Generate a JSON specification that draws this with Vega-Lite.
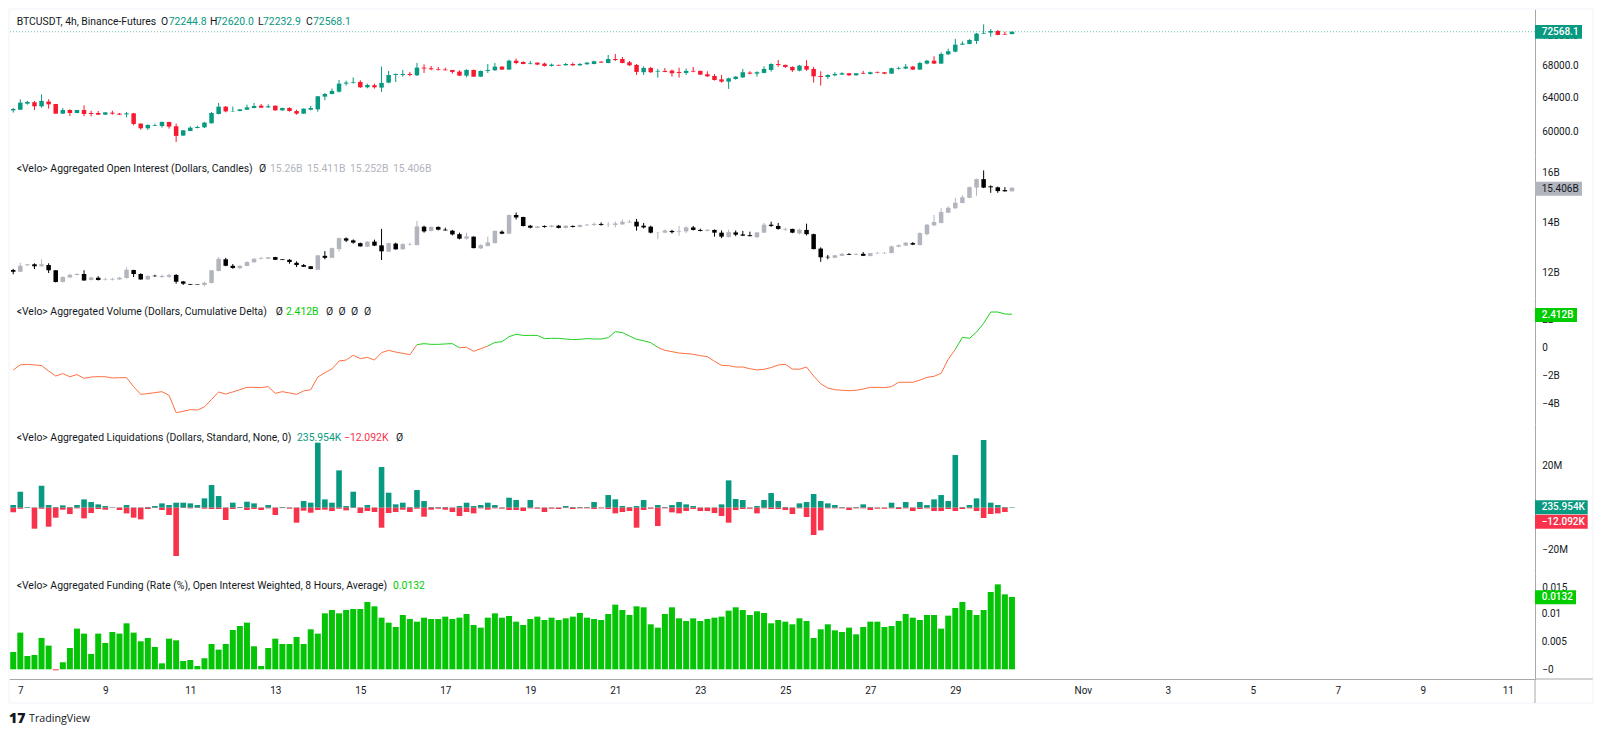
{"$schema":"https://vega.github.io/schema/vega-lite/v6.json","background":"white","padding":{"left":8,"top":8,"right":0,"bottom":0},"bounds":"flush","spacing":0,
"config":{"view":{"stroke":null},"text":{"font":"Roboto","fontSize":10.4,"align":"left","baseline":"middle","color":"#131722"},"axis":{"labelFont":"Roboto","labelFontSize":10,"labelColor":"#131722","grid":false,"ticks":false,"title":null,"domainColor":"#a8a8a8","domainWidth":1,"labelOverlap":false,"labelFlush":false,"labelBound":false}},
"datasets":{"bars":[
{"t":"2024-10-06T20:00Z","o":62510,"h":62790,"l":62240,"c":62670,"io":12.10,"ih":12.15,"il":11.93,"ic":12.03,"dn":-1.57,"long":1.27,"short":-2.22,"fund":0.00316},
{"t":"2024-10-07T00:00Z","o":62590,"h":63840,"l":62550,"c":63430,"io":12.03,"ih":12.39,"il":12.02,"ic":12.27,"dn":-1.21,"long":7.62,"short":-0.48,"fund":0.00669},
{"t":"2024-10-07T04:00Z","o":63310,"h":63640,"l":63190,"c":63520,"io":12.29,"ih":12.33,"il":12.27,"ic":12.33,"dn":-1.17,"long":0.32,"short":-0.05,"fund":0.00243},
{"t":"2024-10-07T08:00Z","o":63480,"h":63640,"l":62550,"c":62990,"io":12.33,"ih":12.37,"il":12.14,"ic":12.25,"dn":-1.21,"long":0.16,"short":-10.0,"fund":0.00261},
{"t":"2024-10-07T12:00Z","o":62990,"h":64440,"l":62830,"c":63640,"io":12.25,"ih":12.53,"il":12.23,"ic":12.33,"dn":-1.26,"long":10.47,"short":-0.48,"fund":0.00572},
{"t":"2024-10-07T16:00Z","o":63560,"h":63840,"l":62710,"c":63230,"io":12.30,"ih":12.37,"il":11.98,"ic":12.09,"dn":-1.64,"long":1.27,"short":-9.05,"fund":0.00432},
{"t":"2024-10-07T20:00Z","o":63270,"h":63270,"l":62120,"c":62120,"io":12.09,"ih":12.09,"il":11.60,"ic":11.62,"dn":-2.00,"long":0.32,"short":-4.76,"fund":-0.00018},
{"t":"2024-10-08T00:00Z","o":62120,"h":62790,"l":62080,"c":62550,"io":11.62,"ih":11.85,"il":11.60,"ic":11.82,"dn":-1.83,"long":1.11,"short":-0.95,"fund":0.00128},
{"t":"2024-10-08T04:00Z","o":62550,"h":62630,"l":61850,"c":62200,"io":11.80,"ih":11.95,"il":11.79,"ic":11.91,"dn":-2.05,"long":0.32,"short":-3.02,"fund":0.00389},
{"t":"2024-10-08T08:00Z","o":62200,"h":62550,"l":62160,"c":62550,"io":11.90,"ih":11.97,"il":11.89,"ic":11.94,"dn":-1.90,"long":1.27,"short":-0.32,"fund":0.00742},
{"t":"2024-10-08T12:00Z","o":62550,"h":63110,"l":61810,"c":62080,"io":11.94,"ih":12.09,"il":11.67,"ic":11.68,"dn":-2.17,"long":3.97,"short":-5.08,"fund":0.00651},
{"t":"2024-10-08T16:00Z","o":62200,"h":62470,"l":61810,"c":62080,"io":11.70,"ih":11.83,"il":11.68,"ic":11.80,"dn":-2.07,"long":2.7,"short":-2.54,"fund":0.0028},
{"t":"2024-10-08T20:00Z","o":62200,"h":62430,"l":61960,"c":62000,"io":11.79,"ih":11.85,"il":11.68,"ic":11.70,"dn":-2.05,"long":1.59,"short":-0.63,"fund":0.00651},
{"t":"2024-10-09T00:00Z","o":62000,"h":62310,"l":61960,"c":62270,"io":11.70,"ih":11.79,"il":11.68,"ic":11.72,"dn":-2.05,"long":0.79,"short":-0.95,"fund":0.0048},
{"t":"2024-10-09T04:00Z","o":62240,"h":62470,"l":62000,"c":62120,"io":11.71,"ih":11.79,"il":11.68,"ic":11.74,"dn":-2.14,"long":0.16,"short":-0.16,"fund":0.00681},
{"t":"2024-10-09T08:00Z","o":62120,"h":62200,"l":61960,"c":62000,"io":11.72,"ih":11.82,"il":11.71,"ic":11.79,"dn":-2.12,"long":0.16,"short":-1.11,"fund":0.00651},
{"t":"2024-10-09T12:00Z","o":62040,"h":62310,"l":61690,"c":62160,"io":11.78,"ih":12.21,"il":11.76,"ic":12.11,"dn":-2.12,"long":1.27,"short":-2.7,"fund":0.00839},
{"t":"2024-10-09T16:00Z","o":62160,"h":62200,"l":60760,"c":60920,"io":12.10,"ih":12.11,"il":11.82,"ic":11.94,"dn":-2.76,"long":0.16,"short":-4.76,"fund":0.00669},
{"t":"2024-10-09T20:00Z","o":60960,"h":60960,"l":60260,"c":60420,"io":11.94,"ih":11.97,"il":11.71,"ic":11.72,"dn":-3.31,"long":0.16,"short":-5.55,"fund":0.00511},
{"t":"2024-10-10T00:00Z","o":60420,"h":60880,"l":60230,"c":60800,"io":11.72,"ih":11.89,"il":11.71,"ic":11.86,"dn":-3.26,"long":0.32,"short":-0.63,"fund":0.00572},
{"t":"2024-10-10T04:00Z","o":60720,"h":60960,"l":60680,"c":60800,"io":11.87,"ih":11.91,"il":11.83,"ic":11.85,"dn":-3.19,"long":0.79,"short":-0.16,"fund":0.00407},
{"t":"2024-10-10T08:00Z","o":60680,"h":61190,"l":60490,"c":61150,"io":11.82,"ih":11.91,"il":11.78,"ic":11.86,"dn":-3.12,"long":2.06,"short":-1.11,"fund":0.00109},
{"t":"2024-10-10T12:00Z","o":61150,"h":61150,"l":60380,"c":60610,"io":11.83,"ih":11.95,"il":11.78,"ic":11.90,"dn":-3.38,"long":1.27,"short":-3.49,"fund":0.00559},
{"t":"2024-10-10T16:00Z","o":60650,"h":60960,"l":58870,"c":59550,"io":11.90,"ih":11.94,"il":11.55,"ic":11.63,"dn":-4.62,"long":2.38,"short":-23.0,"fund":0.00529},
{"t":"2024-10-10T20:00Z","o":59590,"h":60190,"l":59550,"c":60190,"io":11.64,"ih":11.66,"il":11.50,"ic":11.55,"dn":-4.52,"long":2.38,"short":-0.16,"fund":0.00152},
{"t":"2024-10-11T00:00Z","o":60110,"h":60650,"l":60080,"c":60490,"io":11.54,"ih":11.54,"il":11.50,"ic":11.51,"dn":-4.40,"long":2.06,"short":-0.32,"fund":0.0017},
{"t":"2024-10-11T04:00Z","o":60450,"h":60720,"l":60410,"c":60570,"io":11.52,"ih":11.52,"il":11.50,"ic":11.50,"dn":-4.43,"long":1.27,"short":-0.16,"fund":0.00061},
{"t":"2024-10-11T08:00Z","o":60530,"h":61150,"l":60450,"c":61070,"io":11.50,"ih":11.62,"il":11.44,"ic":11.59,"dn":-4.21,"long":4.44,"short":-0.48,"fund":0.00201},
{"t":"2024-10-11T12:00Z","o":61000,"h":62310,"l":60960,"c":62200,"io":11.58,"ih":12.10,"il":11.56,"ic":12.09,"dn":-3.67,"long":10.79,"short":-0.63,"fund":0.00462},
{"t":"2024-10-11T16:00Z","o":62080,"h":63390,"l":62040,"c":62950,"io":12.06,"ih":12.62,"il":12.05,"ic":12.55,"dn":-3.14,"long":5.55,"short":-0.63,"fund":0.00359},
{"t":"2024-10-11T20:00Z","o":62950,"h":63030,"l":62270,"c":62390,"io":12.53,"ih":12.59,"il":12.25,"ic":12.27,"dn":-3.29,"long":0.16,"short":-5.87,"fund":0.00462},
{"t":"2024-10-12T00:00Z","o":62390,"h":62950,"l":62350,"c":62430,"io":12.27,"ih":12.34,"il":12.15,"ic":12.18,"dn":-3.14,"long":2.38,"short":-0.63,"fund":0.00717},
{"t":"2024-10-12T04:00Z","o":62430,"h":62630,"l":62390,"c":62630,"io":12.17,"ih":12.29,"il":12.15,"ic":12.27,"dn":-2.98,"long":0.32,"short":-0.16,"fund":0.0079},
{"t":"2024-10-12T08:00Z","o":62590,"h":63190,"l":62550,"c":62870,"io":12.26,"ih":12.45,"il":12.25,"ic":12.42,"dn":-2.81,"long":2.86,"short":-1.11,"fund":0.00851},
{"t":"2024-10-12T12:00Z","o":62790,"h":63390,"l":62750,"c":63030,"io":12.41,"ih":12.58,"il":12.39,"ic":12.55,"dn":-2.81,"long":2.06,"short":-0.63,"fund":0.0042},
{"t":"2024-10-12T16:00Z","o":63070,"h":63270,"l":62790,"c":62830,"io":12.54,"ih":12.63,"il":12.53,"ic":12.57,"dn":-2.83,"long":0.16,"short":-1.11,"fund":0.00061},
{"t":"2024-10-12T20:00Z","o":62870,"h":63230,"l":62790,"c":62990,"io":12.55,"ih":12.62,"il":12.54,"ic":12.61,"dn":-2.76,"long":1.27,"short":-0.32,"fund":0.00389},
{"t":"2024-10-13T00:00Z","o":63070,"h":63070,"l":62470,"c":62510,"io":12.62,"ih":12.63,"il":12.50,"ic":12.51,"dn":-3.24,"long":0.16,"short":-3.49,"fund":0.00559},
{"t":"2024-10-13T04:00Z","o":62510,"h":62830,"l":62470,"c":62790,"io":12.53,"ih":12.53,"il":12.50,"ic":12.50,"dn":-3.12,"long":0.32,"short":-0.16,"fund":0.00462},
{"t":"2024-10-13T08:00Z","o":62790,"h":62870,"l":62350,"c":62430,"io":12.51,"ih":12.54,"il":12.35,"ic":12.42,"dn":-3.21,"long":0.16,"short":-0.48,"fund":0.00462},
{"t":"2024-10-13T12:00Z","o":62430,"h":62590,"l":62000,"c":62120,"io":12.39,"ih":12.45,"il":12.22,"ic":12.30,"dn":-3.31,"long":0.16,"short":-7.14,"fund":0.0059},
{"t":"2024-10-13T16:00Z","o":62120,"h":62750,"l":62080,"c":62710,"io":12.30,"ih":12.34,"il":12.22,"ic":12.23,"dn":-3.07,"long":3.17,"short":-1.43,"fund":0.00462},
{"t":"2024-10-13T20:00Z","o":62590,"h":63030,"l":62510,"c":62790,"io":12.25,"ih":12.26,"il":12.13,"ic":12.14,"dn":-2.98,"long":2.38,"short":-2.38,"fund":0.0073},
{"t":"2024-10-14T00:00Z","o":62630,"h":64240,"l":62350,"c":64200,"io":12.11,"ih":12.70,"il":12.10,"ic":12.69,"dn":-2.07,"long":30.95,"short":-1.11,"fund":0.00651},
{"t":"2024-10-14T04:00Z","o":64160,"h":64610,"l":63720,"c":64480,"io":12.67,"ih":12.86,"il":12.53,"ic":12.59,"dn":-1.76,"long":3.97,"short":-0.95,"fund":0.01021},
{"t":"2024-10-14T08:00Z","o":64480,"h":65150,"l":64440,"c":64860,"io":12.59,"ih":13.00,"il":12.58,"ic":12.98,"dn":-1.50,"long":2.38,"short":-1.59,"fund":0.01082},
{"t":"2024-10-14T12:00Z","o":64770,"h":66220,"l":64650,"c":65760,"io":12.94,"ih":13.40,"il":12.84,"ic":13.38,"dn":-0.93,"long":17.77,"short":-0.48,"fund":0.01021},
{"t":"2024-10-14T16:00Z","o":65760,"h":66140,"l":65520,"c":65890,"io":13.37,"ih":13.41,"il":13.22,"ic":13.28,"dn":-0.86,"long":0.79,"short":-1.27,"fund":0.01082},
{"t":"2024-10-14T20:00Z","o":65850,"h":66550,"l":65760,"c":65930,"io":13.29,"ih":13.33,"il":13.16,"ic":13.20,"dn":-0.52,"long":7.62,"short":-0.16,"fund":0.011},
{"t":"2024-10-15T00:00Z","o":65970,"h":66180,"l":65230,"c":65310,"io":13.18,"ih":13.20,"il":13.04,"ic":13.05,"dn":-0.76,"long":0.16,"short":-2.54,"fund":0.011},
{"t":"2024-10-15T04:00Z","o":65310,"h":65760,"l":65180,"c":65600,"io":13.04,"ih":13.25,"il":13.02,"ic":13.24,"dn":-0.67,"long":1.27,"short":-1.59,"fund":0.01228},
{"t":"2024-10-15T08:00Z","o":65560,"h":65760,"l":65140,"c":65310,"io":13.24,"ih":13.32,"il":13.06,"ic":13.08,"dn":-0.86,"long":0.16,"short":-2.06,"fund":0.01149},
{"t":"2024-10-15T12:00Z","o":65270,"h":67920,"l":64730,"c":65850,"io":13.09,"ih":13.75,"il":12.50,"ic":12.85,"dn":-0.33,"long":19.36,"short":-9.52,"fund":0.00942},
{"t":"2024-10-15T16:00Z","o":65890,"h":67370,"l":65810,"c":66850,"io":12.84,"ih":13.20,"il":12.82,"ic":13.18,"dn":-0.17,"long":7.14,"short":-2.54,"fund":0.00851},
{"t":"2024-10-15T20:00Z","o":66850,"h":67020,"l":65970,"c":66980,"io":13.16,"ih":13.20,"il":12.92,"ic":12.93,"dn":-0.29,"long":1.59,"short":-2.06,"fund":0.00772},
{"t":"2024-10-16T00:00Z","o":66850,"h":67490,"l":66640,"c":66980,"io":12.93,"ih":13.18,"il":12.92,"ic":13.14,"dn":-0.38,"long":2.38,"short":-0.95,"fund":0.00991},
{"t":"2024-10-16T04:00Z","o":66980,"h":67240,"l":66680,"c":66850,"io":13.12,"ih":13.20,"il":13.08,"ic":13.14,"dn":-0.48,"long":0.32,"short":-2.06,"fund":0.00918},
{"t":"2024-10-16T08:00Z","o":66810,"h":68390,"l":66720,"c":67790,"io":13.10,"ih":14.07,"il":13.09,"ic":13.85,"dn":0.24,"up":0.24,"long":8.41,"short":-0.48,"fund":0.00869},
{"t":"2024-10-16T12:00Z","o":67790,"h":68220,"l":67110,"c":67670,"io":13.84,"ih":13.88,"il":13.60,"ic":13.65,"up":0.31,"long":3.17,"short":-4.28,"fund":0.00942},
{"t":"2024-10-16T16:00Z","o":67710,"h":68010,"l":67450,"c":67580,"io":13.67,"ih":13.85,"il":13.65,"ic":13.83,"up":0.26,"long":0.32,"short":-0.95,"fund":0.00918},
{"t":"2024-10-16T20:00Z","o":67580,"h":67880,"l":67410,"c":67490,"io":13.83,"ih":13.85,"il":13.69,"ic":13.72,"up":0.26,"long":0.32,"short":-0.48,"fund":0.00918},
{"t":"2024-10-17T00:00Z","o":67540,"h":67790,"l":67410,"c":67450,"io":13.72,"ih":13.80,"il":13.68,"ic":13.69,"up":0.29,"long":0.32,"short":-0.95,"fund":0.00961},
{"t":"2024-10-17T04:00Z","o":67490,"h":67490,"l":67020,"c":67240,"io":13.68,"ih":13.71,"il":13.49,"ic":13.53,"up":0.31,"long":0.16,"short":-2.06,"fund":0.00918},
{"t":"2024-10-17T08:00Z","o":67280,"h":67450,"l":66720,"c":66770,"io":13.54,"ih":13.60,"il":13.33,"ic":13.36,"up":0.02,"dn":0.02,"long":0.79,"short":-3.97,"fund":0.00942},
{"t":"2024-10-17T12:00Z","o":66770,"h":67580,"l":66550,"c":67490,"io":13.36,"ih":13.60,"il":13.32,"ic":13.45,"dn":0.05,"long":2.38,"short":-2.06,"fund":0.01009},
{"t":"2024-10-17T16:00Z","o":67490,"h":67540,"l":66600,"c":66640,"io":13.44,"ih":13.45,"il":12.97,"ic":12.98,"dn":-0.24,"long":0.79,"short":-2.7,"fund":0.00809},
{"t":"2024-10-17T20:00Z","o":66640,"h":67410,"l":66600,"c":67370,"io":12.97,"ih":13.13,"il":12.94,"ic":13.10,"dn":-0.05,"long":1.27,"short":-0.32,"fund":0.0076},
{"t":"2024-10-18T00:00Z","o":67370,"h":68260,"l":67110,"c":67490,"io":13.06,"ih":13.44,"il":13.05,"ic":13.21,"dn":0.14,"up":0.14,"long":2.38,"short":-0.95,"fund":0.00942},
{"t":"2024-10-18T04:00Z","o":67450,"h":68390,"l":67370,"c":67920,"io":13.18,"ih":13.69,"il":13.17,"ic":13.67,"up":0.40,"long":1.27,"short":-0.32,"fund":0.01021},
{"t":"2024-10-18T08:00Z","o":67920,"h":67960,"l":67500,"c":67540,"io":13.64,"ih":13.69,"il":13.54,"ic":13.56,"up":0.45,"long":0.16,"short":-0.48,"fund":0.00942},
{"t":"2024-10-18T12:00Z","o":67540,"h":68820,"l":67490,"c":68690,"io":13.56,"ih":14.32,"il":13.54,"ic":14.31,"up":0.81,"long":4.76,"short":-1.11,"fund":0.00973},
{"t":"2024-10-18T16:00Z","o":68690,"h":68950,"l":68220,"c":68390,"io":14.31,"ih":14.41,"il":14.13,"ic":14.21,"up":0.98,"long":3.65,"short":-1.11,"fund":0.00869},
{"t":"2024-10-18T20:00Z","o":68520,"h":68610,"l":68220,"c":68260,"io":14.23,"ih":14.24,"il":13.85,"ic":13.87,"up":0.90,"long":0.16,"short":-1.59,"fund":0.00809},
{"t":"2024-10-19T00:00Z","o":68310,"h":68650,"l":68220,"c":68390,"io":13.88,"ih":13.91,"il":13.77,"ic":13.80,"up":0.90,"long":3.65,"short":-0.32,"fund":0.00918},
{"t":"2024-10-19T04:00Z","o":68440,"h":68440,"l":68140,"c":68180,"io":13.79,"ih":13.87,"il":13.77,"ic":13.85,"up":0.90,"long":0.16,"short":-0.48,"fund":0.00961},
{"t":"2024-10-19T08:00Z","o":68310,"h":68440,"l":67920,"c":68010,"io":13.87,"ih":13.89,"il":13.80,"ic":13.83,"up":0.67,"long":0.16,"short":-2.06,"fund":0.009},
{"t":"2024-10-19T12:00Z","o":68010,"h":68310,"l":67920,"c":68180,"io":13.83,"ih":13.91,"il":13.81,"ic":13.88,"up":0.69,"long":0.16,"short":-0.48,"fund":0.00942},
{"t":"2024-10-19T16:00Z","o":68140,"h":68180,"l":68010,"c":68050,"io":13.88,"ih":13.91,"il":13.77,"ic":13.79,"up":0.69,"long":0.16,"short":-0.63,"fund":0.009},
{"t":"2024-10-19T20:00Z","o":68090,"h":68390,"l":68050,"c":68260,"io":13.79,"ih":13.89,"il":13.77,"ic":13.88,"up":0.64,"long":0.79,"short":-0.16,"fund":0.0093},
{"t":"2024-10-20T00:00Z","o":68260,"h":68440,"l":68010,"c":68090,"io":13.87,"ih":13.89,"il":13.81,"ic":13.83,"up":0.60,"long":0.32,"short":-0.63,"fund":0.00961},
{"t":"2024-10-20T04:00Z","o":68090,"h":68390,"l":68010,"c":68260,"io":13.83,"ih":13.92,"il":13.81,"ic":13.91,"up":0.62,"long":0.32,"short":-0.32,"fund":0.01028},
{"t":"2024-10-20T08:00Z","o":68220,"h":68480,"l":68180,"c":68440,"io":13.89,"ih":13.95,"il":13.88,"ic":13.92,"up":0.67,"long":0.32,"short":-0.32,"fund":0.00942},
{"t":"2024-10-20T12:00Z","o":68260,"h":68690,"l":68220,"c":68610,"io":13.91,"ih":14.01,"il":13.87,"ic":13.95,"up":0.64,"long":2.7,"short":-0.63,"fund":0.00918},
{"t":"2024-10-20T16:00Z","o":68560,"h":68610,"l":68390,"c":68440,"io":13.95,"ih":14.01,"il":13.88,"ic":13.91,"up":0.64,"long":0.16,"short":-0.32,"fund":0.009},
{"t":"2024-10-20T20:00Z","o":68390,"h":69440,"l":68350,"c":68910,"io":13.92,"ih":14.03,"il":13.83,"ic":13.93,"up":0.74,"long":6.03,"short":-0.63,"fund":0.01009},
{"t":"2024-10-21T00:00Z","o":68910,"h":69570,"l":68650,"c":68780,"io":13.91,"ih":14.05,"il":13.81,"ic":13.97,"up":1.17,"long":3.97,"short":-2.7,"fund":0.0118},
{"t":"2024-10-21T04:00Z","o":68910,"h":69180,"l":68350,"c":68390,"io":13.93,"ih":14.13,"il":13.92,"ic":14.04,"up":1.10,"long":0.79,"short":-2.06,"fund":0.01082},
{"t":"2024-10-21T08:00Z","o":68480,"h":68650,"l":68010,"c":68090,"io":14.01,"ih":14.12,"il":13.99,"ic":14.04,"up":0.86,"long":0.32,"short":-1.59,"fund":0.00991},
{"t":"2024-10-21T12:00Z","o":68140,"h":68260,"l":66850,"c":67240,"io":14.04,"ih":14.15,"il":13.68,"ic":13.85,"up":0.62,"long":0.79,"short":-9.52,"fund":0.01149},
{"t":"2024-10-21T16:00Z","o":67200,"h":67960,"l":66850,"c":67750,"io":13.88,"ih":13.99,"il":13.77,"ic":13.81,"up":0.52,"long":3.65,"short":-1.11,"fund":0.01131},
{"t":"2024-10-21T20:00Z","o":67750,"h":67880,"l":67110,"c":67200,"io":13.84,"ih":13.88,"il":13.57,"ic":13.60,"up":0.38,"long":0.16,"short":-0.48,"fund":0.00821},
{"t":"2024-10-22T00:00Z","o":67280,"h":67620,"l":66510,"c":67370,"io":13.61,"ih":13.62,"il":13.34,"ic":13.62,"up":0.05,"dn":0.05,"long":1.27,"short":-8.73,"fund":0.0076},
{"t":"2024-10-22T04:00Z","o":67370,"h":67750,"l":67200,"c":67240,"io":13.60,"ih":13.73,"il":13.58,"ic":13.69,"dn":-0.17,"long":0.32,"short":-0.32,"fund":0.01009},
{"t":"2024-10-22T08:00Z","o":67410,"h":67540,"l":66640,"c":67070,"io":13.67,"ih":13.71,"il":13.57,"ic":13.62,"dn":-0.26,"long":1.27,"short":-2.22,"fund":0.01131},
{"t":"2024-10-22T12:00Z","o":67240,"h":67790,"l":66510,"c":67110,"io":13.64,"ih":13.88,"il":13.48,"ic":13.67,"dn":-0.36,"long":2.7,"short":-2.7,"fund":0.0093},
{"t":"2024-10-22T16:00Z","o":67110,"h":67670,"l":66850,"c":67370,"io":13.65,"ih":13.85,"il":13.58,"ic":13.81,"dn":-0.40,"long":1.59,"short":-1.59,"fund":0.00882},
{"t":"2024-10-22T20:00Z","o":67370,"h":67880,"l":67200,"c":67280,"io":13.81,"ih":13.87,"il":13.69,"ic":13.71,"dn":-0.45,"long":0.79,"short":-0.63,"fund":0.0093},
{"t":"2024-10-23T00:00Z","o":67370,"h":67410,"l":66850,"c":66900,"io":13.71,"ih":13.76,"il":13.65,"ic":13.67,"dn":-0.55,"long":0.16,"short":-1.59,"fund":0.00882},
{"t":"2024-10-23T04:00Z","o":66940,"h":67320,"l":66600,"c":66680,"io":13.67,"ih":13.72,"il":13.65,"ic":13.72,"dn":-0.62,"long":0.16,"short":-1.59,"fund":0.00918},
{"t":"2024-10-23T08:00Z","o":66720,"h":66980,"l":66140,"c":66220,"io":13.71,"ih":13.73,"il":13.44,"ic":13.60,"dn":-0.95,"long":0.16,"short":-2.54,"fund":0.00942},
{"t":"2024-10-23T12:00Z","o":66300,"h":66850,"l":65890,"c":66010,"io":13.60,"ih":13.69,"il":13.38,"ic":13.44,"dn":-1.24,"long":1.59,"short":-3.97,"fund":0.00961},
{"t":"2024-10-23T16:00Z","o":66010,"h":66510,"l":65100,"c":66430,"io":13.42,"ih":13.72,"il":13.41,"ic":13.62,"dn":-1.26,"long":13.01,"short":-7.14,"fund":0.0107},
{"t":"2024-10-23T20:00Z","o":66340,"h":66720,"l":66260,"c":66640,"io":13.61,"ih":13.69,"il":13.46,"ic":13.52,"dn":-1.36,"long":4.13,"short":-1.11,"fund":0.01131},
{"t":"2024-10-24T00:00Z","o":66550,"h":67620,"l":66470,"c":67200,"io":13.53,"ih":13.67,"il":13.46,"ic":13.48,"dn":-1.36,"long":3.65,"short":-0.63,"fund":0.01082},
{"t":"2024-10-24T04:00Z","o":67150,"h":67320,"l":66940,"c":67020,"io":13.50,"ih":13.64,"il":13.45,"ic":13.46,"dn":-1.48,"long":0.16,"short":-0.48,"fund":0.00991},
{"t":"2024-10-24T08:00Z","o":67020,"h":67320,"l":66640,"c":67200,"io":13.42,"ih":13.62,"il":13.38,"ic":13.61,"dn":-1.57,"long":0.79,"short":-2.7,"fund":0.01058},
{"t":"2024-10-24T12:00Z","o":67110,"h":67960,"l":67070,"c":67620,"io":13.60,"ih":13.99,"il":13.58,"ic":13.92,"dn":-1.52,"long":3.65,"short":-0.32,"fund":0.01028},
{"t":"2024-10-24T16:00Z","o":67490,"h":68350,"l":67280,"c":68260,"io":13.92,"ih":14.04,"il":13.83,"ic":13.87,"dn":-1.40,"long":6.98,"short":-0.63,"fund":0.00839},
{"t":"2024-10-24T20:00Z","o":68260,"h":68780,"l":67880,"c":68140,"io":13.87,"ih":13.99,"il":13.72,"ic":13.75,"dn":-1.21,"long":3.17,"short":-0.63,"fund":0.009},
{"t":"2024-10-25T00:00Z","o":68140,"h":68180,"l":67750,"c":67880,"io":13.72,"ih":13.80,"il":13.67,"ic":13.75,"dn":-1.17,"long":0.32,"short":-1.11,"fund":0.00869},
{"t":"2024-10-25T04:00Z","o":67880,"h":67960,"l":67240,"c":67450,"io":13.75,"ih":13.76,"il":13.58,"ic":13.60,"dn":-1.50,"long":0.16,"short":-3.02,"fund":0.00821},
{"t":"2024-10-25T08:00Z","o":67410,"h":68140,"l":67320,"c":68050,"io":13.57,"ih":13.76,"il":13.53,"ic":13.72,"dn":-1.52,"long":2.06,"short":-0.32,"fund":0.0093},
{"t":"2024-10-25T12:00Z","o":68010,"h":68740,"l":67370,"c":67540,"io":13.71,"ih":13.96,"il":13.49,"ic":13.54,"dn":-1.36,"long":2.7,"short":-4.44,"fund":0.00882},
{"t":"2024-10-25T16:00Z","o":67620,"h":67880,"l":65890,"c":66680,"io":13.54,"ih":13.56,"il":12.93,"ic":12.94,"dn":-2.00,"long":6.51,"short":-13.01,"fund":0.00572},
{"t":"2024-10-25T20:00Z","o":66720,"h":67320,"l":65520,"c":66600,"io":12.96,"ih":13.01,"il":12.43,"ic":12.61,"dn":-2.55,"long":3.17,"short":-10.79,"fund":0.0073},
{"t":"2024-10-26T00:00Z","o":66600,"h":66940,"l":66340,"c":66850,"io":12.63,"ih":12.70,"il":12.53,"ic":12.61,"dn":-2.86,"long":2.06,"short":-0.32,"fund":0.00821},
{"t":"2024-10-26T04:00Z","o":66810,"h":67200,"l":66680,"c":66980,"io":12.59,"ih":12.71,"il":12.58,"ic":12.69,"dn":-2.98,"long":1.27,"short":-0.32,"fund":0.00711},
{"t":"2024-10-26T08:00Z","o":66900,"h":67200,"l":66850,"c":67070,"io":12.67,"ih":12.78,"il":12.66,"ic":12.75,"dn":-3.02,"long":0.32,"short":-0.32,"fund":0.00681},
{"t":"2024-10-26T12:00Z","o":67070,"h":67110,"l":66720,"c":66810,"io":12.74,"ih":12.78,"il":12.70,"ic":12.71,"dn":-3.05,"long":0.16,"short":-1.11,"fund":0.0076},
{"t":"2024-10-26T16:00Z","o":66810,"h":67070,"l":66770,"c":67070,"io":12.71,"ih":12.78,"il":12.70,"ic":12.74,"dn":-3.02,"long":0.32,"short":-0.32,"fund":0.00638},
{"t":"2024-10-26T20:00Z","o":67110,"h":67370,"l":66980,"c":67020,"io":12.75,"ih":12.82,"il":12.66,"ic":12.67,"dn":-2.93,"long":1.59,"short":-0.32,"fund":0.00772},
{"t":"2024-10-27T00:00Z","o":66980,"h":67280,"l":66900,"c":67200,"io":12.66,"ih":12.79,"il":12.65,"ic":12.78,"dn":-2.81,"long":0.32,"short":-1.11,"fund":0.00869},
{"t":"2024-10-27T04:00Z","o":67240,"h":67280,"l":67070,"c":67150,"io":12.77,"ih":12.82,"il":12.75,"ic":12.79,"dn":-2.81,"long":0.16,"short":-0.48,"fund":0.00869},
{"t":"2024-10-27T08:00Z","o":67200,"h":67200,"l":66940,"c":67020,"io":12.77,"ih":12.82,"il":12.75,"ic":12.79,"dn":-2.83,"long":0.16,"short":-0.48,"fund":0.00772},
{"t":"2024-10-27T12:00Z","o":67020,"h":67790,"l":66980,"c":67710,"io":12.78,"ih":13.08,"il":12.77,"ic":13.05,"dn":-2.76,"long":2.38,"short":-0.32,"fund":0.0079},
{"t":"2024-10-27T16:00Z","o":67620,"h":67920,"l":67540,"c":67710,"io":13.04,"ih":13.13,"il":13.01,"ic":13.10,"dn":-2.45,"long":0.32,"short":-0.63,"fund":0.00882},
{"t":"2024-10-27T20:00Z","o":67670,"h":68260,"l":67580,"c":67920,"io":13.08,"ih":13.22,"il":13.06,"ic":13.20,"dn":-2.45,"long":2.7,"short":-0.32,"fund":0.01009},
{"t":"2024-10-28T00:00Z","o":67920,"h":68010,"l":67490,"c":67540,"io":13.18,"ih":13.22,"il":13.10,"ic":13.12,"dn":-2.45,"long":0.16,"short":-1.59,"fund":0.00942},
{"t":"2024-10-28T04:00Z","o":67540,"h":68560,"l":67490,"c":68390,"io":13.10,"ih":13.62,"il":13.09,"ic":13.58,"dn":-2.29,"long":2.7,"short":-0.63,"fund":0.009},
{"t":"2024-10-28T08:00Z","o":68310,"h":68780,"l":68220,"c":68690,"io":13.54,"ih":13.95,"il":13.49,"ic":13.92,"dn":-2.10,"long":1.27,"short":-0.32,"fund":0.00991},
{"t":"2024-10-28T12:00Z","o":68690,"h":69270,"l":68260,"c":68310,"io":13.89,"ih":14.31,"il":13.88,"ic":14.03,"dn":-2.02,"long":3.97,"short":-1.59,"fund":0.00991},
{"t":"2024-10-28T16:00Z","o":68310,"h":69790,"l":68260,"c":69570,"io":13.99,"ih":14.58,"il":13.97,"ic":14.43,"dn":-1.81,"long":6.03,"short":-1.59,"fund":0.00742},
{"t":"2024-10-28T20:00Z","o":69530,"h":70280,"l":69440,"c":69930,"io":14.40,"ih":14.66,"il":14.39,"ic":14.60,"dn":-0.81,"long":3.17,"short":-0.63,"fund":0.00979},
{"t":"2024-10-29T00:00Z","o":69880,"h":71590,"l":69790,"c":70810,"io":14.58,"ih":15.00,"il":14.56,"ic":14.80,"dn":-0.10,"up":-0.10,"long":25.07,"short":-1.59,"fund":0.01119},
{"t":"2024-10-29T04:00Z","o":70810,"h":71270,"l":70760,"c":70950,"io":14.79,"ih":15.11,"il":14.78,"ic":15.02,"up":0.76,"long":0.32,"short":-0.63,"fund":0.01228},
{"t":"2024-10-29T08:00Z","o":70900,"h":71540,"l":70860,"c":71450,"io":15.00,"ih":15.45,"il":14.99,"ic":15.43,"up":0.69,"long":1.27,"short":-0.32,"fund":0.01082},
{"t":"2024-10-29T12:00Z","o":71310,"h":72400,"l":70900,"c":72310,"io":15.41,"ih":15.77,"il":15.08,"ic":15.75,"up":1.14,"long":4.44,"short":-1.59,"fund":0.00991},
{"t":"2024-10-29T16:00Z","o":72310,"h":73590,"l":72270,"c":72400,"io":15.75,"ih":16.10,"il":15.39,"ic":15.41,"up":1.76,"long":32.22,"short":-4.92,"fund":0.01082},
{"t":"2024-10-29T20:00Z","o":72450,"h":72950,"l":71900,"c":72670,"io":15.46,"ih":15.50,"il":15.20,"ic":15.42,"up":2.57,"long":2.38,"short":-3.02,"fund":0.01411},
{"t":"2024-10-30T00:00Z","o":72670,"h":72810,"l":72090,"c":72130,"io":15.42,"ih":15.45,"il":15.20,"ic":15.27,"up":2.57,"long":1.27,"short":-2.7,"fund":0.0155},
{"t":"2024-10-30T04:00Z","o":72270,"h":72580,"l":72130,"c":72180,"io":15.31,"ih":15.43,"il":15.25,"ic":15.26,"up":2.43,"long":0.32,"short":-2.06,"fund":0.01368},
{"t":"2024-10-30T08:00Z","o":72244.8,"h":72620,"l":72232.9,"c":72568.1,"io":15.26,"ih":15.411,"il":15.252,"ic":15.406,"up":2.412,"long":0.236,"short":-0.012,"fund":0.0132}
]},
"vconcat":[
{"width":1526,"height":146,"data":{"name":"bars"},
"layer":[
{"mark":{"type":"rule","strokeWidth":1},"encoding":{"x":{"field":"t","type":"temporal","axis":null,"scale":{"type":"utc","domain":[1728236227000,1731338495000],"nice":false,"padding":0}},"y":{"field":"l","type":"quantitative","scale":{"type":"log","domain":[57432,75768],"nice":false},"axis":{"orient":"right","values":[60000,64000,68000,72000],"format":".1f","labelPadding":6.7}},"y2":{"field":"h"},"color":{"condition":{"test":"datum.c>=datum.o","value":"#089981"},"value":"#f7192f"}}},
{"mark":{"type":"bar","size":4.5},"encoding":{"x":{"field":"t","type":"temporal"},"y":{"field":"o","type":"quantitative"},"y2":{"field":"c"},"color":{"condition":{"test":"datum.c>=datum.o","value":"#089981"},"value":"#f7192f"}}},
{"data":{"values":[{}]},"mark":{"type":"rule","color":"#089981","opacity":0.6,"strokeDash":[1,2]},"encoding":{"y":{"datum":72568.1}}},
{"data":{"values":[{}]},"mark":{"type":"rule","color":"#f0f3fa"},"encoding":{"x":{"datum":1728236227000,"type":"temporal"},"x2":{"datum":1731456406000},"y":{"datum":75768}}},
{"data":{"values":[{}]},"mark":{"type":"rule","color":"#f0f3fa"},"encoding":{"x":{"datum":1728236227000,"type":"temporal"}}},
{"data":{"values":[{}]},"mark":{"type":"rule","color":"#f0f3fa"},"encoding":{"x":{"datum":1731456406000,"type":"temporal"}}},
{"data":{"values":[{}]},"mark":{"type":"rect","color":"#089981"},"encoding":{"x":{"datum":1731338495000,"type":"temporal"},"x2":{"datum":1731434043000},"y":{"datum":73499},"y2":{"datum":71617}}},
{"data":{"values":[{"s":"72568.1"}]},"mark":{"type":"text","color":"white","fontSize":10,"fontWeight":500},"encoding":{"x":{"datum":1731352116000,"type":"temporal"},"y":{"datum":72568.1},"text":{"field":"s"}}},
{"data":{"values":[{"s":"BTCUSDT, 4h, Binance-Futures"}]},"mark":"text","encoding":{"x":{"datum":1728251881000,"type":"temporal"},"y":{"datum":73921},"text":{"field":"s"}}},
{"data":{"values":[{"s":"O"}]},"mark":"text","encoding":{"x":{"datum":1728545234000,"type":"temporal"},"y":{"datum":73921},"text":{"field":"s"}}},
{"data":{"values":[{"s":"72244.8"}]},"mark":{"type":"text","color":"#089981"},"encoding":{"x":{"datum":1728560888000,"type":"temporal"},"y":{"datum":73921},"text":{"field":"s"}}},
{"data":{"values":[{"s":"H"}]},"mark":"text","encoding":{"x":{"datum":1728644848000,"type":"temporal"},"y":{"datum":73921},"text":{"field":"s"}}},
{"data":{"values":[{"s":"72620.0"}]},"mark":{"type":"text","color":"#089981"},"encoding":{"x":{"datum":1728657046000,"type":"temporal"},"y":{"datum":73921},"text":{"field":"s"}}},
{"data":{"values":[{"s":"L"}]},"mark":"text","encoding":{"x":{"datum":1728742429000,"type":"temporal"},"y":{"datum":73921},"text":{"field":"s"}}},
{"data":{"values":[{"s":"72232.9"}]},"mark":{"type":"text","color":"#089981"},"encoding":{"x":{"datum":1728752594000,"type":"temporal"},"y":{"datum":73921},"text":{"field":"s"}}},
{"data":{"values":[{"s":"C"}]},"mark":"text","encoding":{"x":{"datum":1728840010000,"type":"temporal"},"y":{"datum":73921},"text":{"field":"s"}}},
{"data":{"values":[{"s":"72568.1"}]},"mark":{"type":"text","color":"#089981"},"encoding":{"x":{"datum":1728854241000,"type":"temporal"},"y":{"datum":73921},"text":{"field":"s"}}}
]},
{"width":1526,"height":143,"data":{"name":"bars"},
"layer":[
{"mark":{"type":"rule","strokeWidth":1},"encoding":{"x":{"field":"t","type":"temporal","axis":null,"scale":{"type":"utc","domain":[1728236227000,1731338495000],"nice":false,"padding":0}},"y":{"field":"il","type":"quantitative","scale":{"domain":[10.976,16.719],"nice":false,"zero":false},"axis":{"orient":"right","values":[12,14,16],"labelExpr":"datum.value+'B'","labelPadding":6.7}},"y2":{"field":"ih"},"color":{"condition":{"test":"datum.ic>=datum.io","value":"#b2b5be"},"value":"#000000"}}},
{"mark":{"type":"bar","size":4.5},"encoding":{"x":{"field":"t","type":"temporal"},"y":{"field":"io","type":"quantitative"},"y2":{"field":"ic"},"color":{"condition":{"test":"datum.ic>=datum.io","value":"#b2b5be"},"value":"#000000"}}},
{"data":{"values":[{}]},"mark":{"type":"rule","color":"#f0f3fa"},"encoding":{"x":{"datum":1728236227000,"type":"temporal"}}},
{"data":{"values":[{}]},"mark":{"type":"rule","color":"#f0f3fa"},"encoding":{"x":{"datum":1731456406000,"type":"temporal"}}},
{"data":{"values":[{}]},"mark":{"type":"rect","color":"#b2b5be"},"encoding":{"x":{"datum":1731338495000,"type":"temporal"},"x2":{"datum":1731434043000},"y":{"datum":15.647},"y2":{"datum":15.084}}},
{"data":{"values":[{"s":"15.406B"}]},"mark":{"type":"text","color":"#131722","fontSize":10},"encoding":{"x":{"datum":1731352116000,"type":"temporal"},"y":{"datum":15.365},"text":{"field":"s"}}},
{"data":{"values":[{"s":"<Velo> Aggregated Open Interest (Dollars, Candles)"}]},"mark":"text","encoding":{"x":{"datum":1728251881000,"type":"temporal"},"y":{"datum":16.169},"text":{"field":"s"}}},
{"data":{"values":[{"s":"Ø"}]},"mark":"text","encoding":{"x":{"datum":1728744462000,"type":"temporal"},"y":{"datum":16.169},"text":{"field":"s"}}},
{"data":{"values":[{"s":"15.26B"}]},"mark":{"type":"text","color":"#b2b5be"},"encoding":{"x":{"datum":1728766825000,"type":"temporal"},"y":{"datum":16.169},"text":{"field":"s"}}},
{"data":{"values":[{"s":"15.411B"}]},"mark":{"type":"text","color":"#b2b5be"},"encoding":{"x":{"datum":1728842043000,"type":"temporal"},"y":{"datum":16.169},"text":{"field":"s"}}},
{"data":{"values":[{"s":"15.252B"}]},"mark":{"type":"text","color":"#b2b5be"},"encoding":{"x":{"datum":1728929460000,"type":"temporal"},"y":{"datum":16.169},"text":{"field":"s"}}},
{"data":{"values":[{"s":"15.406B"}]},"mark":{"type":"text","color":"#b2b5be"},"encoding":{"x":{"datum":1729016876000,"type":"temporal"},"y":{"datum":16.169},"text":{"field":"s"}}}
]},
{"width":1526,"height":126,"data":{"name":"bars"},
"layer":[
{"mark":{"type":"line","color":"#ff7043","strokeWidth":1},"encoding":{"x":{"field":"t","type":"temporal","axis":null,"scale":{"type":"utc","domain":[1728236227000,1731338495000],"nice":false,"padding":0}},"y":{"field":"dn","type":"quantitative","scale":{"domain":[-5.429,3.571],"nice":false,"zero":false},"axis":{"orient":"right","values":[-4,-2,0,2],"labelExpr":"datum.value==0?'0':replace(datum.value+'B','-','−')","labelPadding":6.7}}}},
{"mark":{"type":"line","color":"#1fd11f","strokeWidth":1},"encoding":{"x":{"field":"t","type":"temporal"},"y":{"field":"up","type":"quantitative"}}},
{"data":{"values":[{}]},"mark":{"type":"rule","color":"#f0f3fa"},"encoding":{"x":{"datum":1728236227000,"type":"temporal"}}},
{"data":{"values":[{}]},"mark":{"type":"rule","color":"#f0f3fa"},"encoding":{"x":{"datum":1731456406000,"type":"temporal"}}},
{"data":{"values":[{}]},"mark":{"type":"rect","color":"#00cc00"},"encoding":{"x":{"datum":1731338495000,"type":"temporal"},"x2":{"datum":1731423878000},"y":{"datum":2.857},"y2":{"datum":1.857}}},
{"data":{"values":[{"s":"2.412B"}]},"mark":{"type":"text","color":"white","fontSize":10,"fontWeight":500},"encoding":{"x":{"datum":1731352116000,"type":"temporal"},"y":{"datum":2.357},"text":{"field":"s"}}},
{"data":{"values":[{"s":"<Velo> Aggregated Volume (Dollars, Cumulative Delta)"}]},"mark":"text","encoding":{"x":{"datum":1728251881000,"type":"temporal"},"y":{"datum":2.593},"text":{"field":"s"}}},
{"data":{"values":[{"s":"Ø"}]},"mark":"text","encoding":{"x":{"datum":1728778412000,"type":"temporal"},"y":{"datum":2.593},"text":{"field":"s"}}},
{"data":{"values":[{"s":"2.412B"}]},"mark":{"type":"text","color":"#00cc00"},"encoding":{"x":{"datum":1728799352000,"type":"temporal"},"y":{"datum":2.593},"text":{"field":"s"}}},
{"data":{"values":[{"s":"Ø"}]},"mark":"text","encoding":{"x":{"datum":1728880669000,"type":"temporal"},"y":{"datum":2.593},"text":{"field":"s"}}},
{"data":{"values":[{"s":"Ø"}]},"mark":"text","encoding":{"x":{"datum":1728906081000,"type":"temporal"},"y":{"datum":2.593},"text":{"field":"s"}}},
{"data":{"values":[{"s":"Ø"}]},"mark":"text","encoding":{"x":{"datum":1728931493000,"type":"temporal"},"y":{"datum":2.593},"text":{"field":"s"}}},
{"data":{"values":[{"s":"Ø"}]},"mark":"text","encoding":{"x":{"datum":1728957921000,"type":"temporal"},"y":{"datum":2.593},"text":{"field":"s"}}}
]},
{"width":1526,"height":149,"data":{"name":"bars"},
"layer":[
{"mark":{"type":"bar","size":5.6,"color":"#089981"},"encoding":{"x":{"field":"t","type":"temporal","axis":null,"scale":{"type":"utc","domain":[1728236227000,1731338495000],"nice":false,"padding":0}},"y":{"field":"long","type":"quantitative","stack":null,"scale":{"domain":[-31.09,39.85],"nice":false,"zero":false},"axis":{"orient":"right","values":[-20,20],"labelExpr":"replace(datum.value+'M','-','−')","labelPadding":6.7}}}},
{"mark":{"type":"bar","size":5.6,"color":"#f7324a"},"encoding":{"x":{"field":"t","type":"temporal"},"y":{"field":"short","type":"quantitative","stack":null}}},
{"data":{"values":[{}]},"mark":{"type":"rule","color":"#f0f3fa"},"encoding":{"x":{"datum":1728236227000,"type":"temporal"}}},
{"data":{"values":[{}]},"mark":{"type":"rule","color":"#f0f3fa"},"encoding":{"x":{"datum":1731456406000,"type":"temporal"}}},
{"data":{"values":[{}]},"mark":{"type":"rect","color":"#089981"},"encoding":{"x":{"datum":1731338495000,"type":"temporal"},"x2":{"datum":1731445631000},"y":{"datum":3.52},"y2":{"datum":-3.14}}},
{"data":{"values":[{"s":"235.954K"}]},"mark":{"type":"text","color":"white","fontSize":10,"fontWeight":500},"encoding":{"x":{"datum":1731352116000,"type":"temporal"},"y":{"datum":0.19},"text":{"field":"s"}}},
{"data":{"values":[{}]},"mark":{"type":"rect","color":"#f7324a"},"encoding":{"x":{"datum":1731338495000,"type":"temporal"},"x2":{"datum":1731445631000},"y":{"datum":-3.33},"y2":{"datum":-10.0}}},
{"data":{"values":[{"s":"−12.092K"}]},"mark":{"type":"text","color":"white","fontSize":10,"fontWeight":500},"encoding":{"x":{"datum":1731352116000,"type":"temporal"},"y":{"datum":-6.66},"text":{"field":"s"}}},
{"data":{"values":[{"s":"<Velo> Aggregated Liquidations (Dollars, Standard, None, 0)"}]},"mark":"text","encoding":{"x":{"datum":1728251881000,"type":"temporal"},"y":{"datum":33.18},"text":{"field":"s"}}},
{"data":{"values":[{"s":"235.954K"}]},"mark":{"type":"text","color":"#089981"},"encoding":{"x":{"datum":1728821714000,"type":"temporal"},"y":{"datum":33.18},"text":{"field":"s"}}},
{"data":{"values":[{"s":"−12.092K"}]},"mark":{"type":"text","color":"#f7324a"},"encoding":{"x":{"datum":1728917262000,"type":"temporal"},"y":{"datum":33.18},"text":{"field":"s"}}},
{"data":{"values":[{"s":"Ø"}]},"mark":"text","encoding":{"x":{"datum":1729022975000,"type":"temporal"},"y":{"datum":33.18},"text":{"field":"s"}}}
]},
{"width":1526,"height":106,"data":{"name":"bars"},
"layer":[
{"mark":{"type":"bar","size":6},"encoding":{"x":{"field":"t","type":"temporal","scale":{"type":"utc","domain":[1728236227000,1731338495000],"nice":false,"padding":0},"axis":{"orient":"bottom","values":[1728259200000,1728432000000,1728604800000,1728777600000,1728950400000,1729123200000,1729296000000,1729468800000,1729641600000,1729814400000,1729987200000,1730160000000,1730419200000,1730592000000,1730764800000,1730937600000,1731110400000,1731283200000],"labelExpr":"utcdate(datum.value)==1?'Nov':''+utcdate(datum.value)","labelPadding":6,"labelAngle":0}},"y":{"field":"fund","type":"quantitative","stack":null,"scale":{"domain":[-0.00177,0.01757],"nice":false,"zero":false},"axis":{"orient":"right","values":[0,0.015],"labelExpr":"datum.value==0?'−0':''+datum.value","labelPadding":6.7}},"color":{"condition":{"test":"datum.fund<0","value":"#f7324a"},"value":"#05c405"}}},
{"data":{"values":[{}]},"mark":{"type":"rule","color":"#f0f3fa"},"encoding":{"x":{"datum":1728236227000,"type":"temporal"}}},
{"data":{"values":[{}]},"mark":{"type":"rule","color":"#f0f3fa"},"encoding":{"x":{"datum":1731456406000,"type":"temporal"}}},
{"data":{"values":[{"s":"0.01"}]},"mark":{"type":"text","fontSize":10},"encoding":{"x":{"datum":1731352116000,"type":"temporal"},"y":{"datum":0.01},"text":{"field":"s"}}},
{"data":{"values":[{"s":"0.005"}]},"mark":{"type":"text","fontSize":10},"encoding":{"x":{"datum":1731352116000,"type":"temporal"},"y":{"datum":0.005},"text":{"field":"s"}}},
{"data":{"values":[{}]},"mark":{"type":"rect","color":"#00cc00"},"encoding":{"x":{"datum":1731338495000,"type":"temporal"},"x2":{"datum":1731421846000},"y":{"datum":0.01442},"y2":{"datum":0.01186}}},
{"data":{"values":[{"s":"0.0132"}]},"mark":{"type":"text","color":"white","fontSize":10,"fontWeight":500},"encoding":{"x":{"datum":1731352116000,"type":"temporal"},"y":{"datum":0.01314},"text":{"field":"s"}}},
{"data":{"values":[{"s":"<Velo> Aggregated Funding (Rate (%), Open Interest Weighted, 8 Hours, Average)"}]},"mark":"text","encoding":{"x":{"datum":1728251881000,"type":"temporal"},"y":{"datum":0.0152},"text":{"field":"s"}}},
{"data":{"values":[{"s":"0.0132"}]},"mark":{"type":"text","color":"#00cc00"},"encoding":{"x":{"datum":1729016876000,"type":"temporal"},"y":{"datum":0.0152},"text":{"field":"s"}}}
]},
{"width":1526,"height":54,"data":{"values":[{}]},
"layer":[
{"mark":{"type":"rule","color":"#f0f3fa"},"encoding":{"x":{"datum":1728236227000,"type":"temporal","axis":null,"scale":{"type":"utc","domain":[1728236227000,1731338495000],"nice":false}},"x2":{"datum":1731456406000},"y":{"datum":24,"type":"quantitative","axis":null,"scale":{"domain":[54,0],"nice":false,"zero":false}}}},
{"mark":{"type":"rule","color":"#a8a8a8"},"encoding":{"x":{"datum":1731338495000,"type":"temporal"},"x2":{"datum":1731456406000},"y":{"datum":0}}},
{"mark":{"type":"rule","color":"#a8a8a8"},"encoding":{"x":{"datum":1731338495000,"type":"temporal"},"y":{"datum":0},"y2":{"datum":24}}},
{"mark":{"type":"rule","color":"#f0f3fa"},"encoding":{"x":{"datum":1728236227000,"type":"temporal"},"y":{"datum":0},"y2":{"datum":24}}},
{"mark":{"type":"rule","color":"#f0f3fa"},"encoding":{"x":{"datum":1731456406000,"type":"temporal"},"y":{"datum":0},"y2":{"datum":24}}},
{"data":{"values":[{"s":"TradingView"}]},"mark":{"type":"text","font":"Open Sans","fontSize":10.7},"encoding":{"x":{"datum":1728276886000,"type":"temporal"},"y":{"datum":40},"text":{"field":"s"}}},
{"data":{"values":[{"s":"17"}]},"mark":{"type":"text","font":"Open Sans","fontSize":14,"fontWeight":800},"encoding":{"x":{"datum":1728236227000,"type":"temporal"},"y":{"datum":40},"text":{"field":"s"}}}
]}
]}
